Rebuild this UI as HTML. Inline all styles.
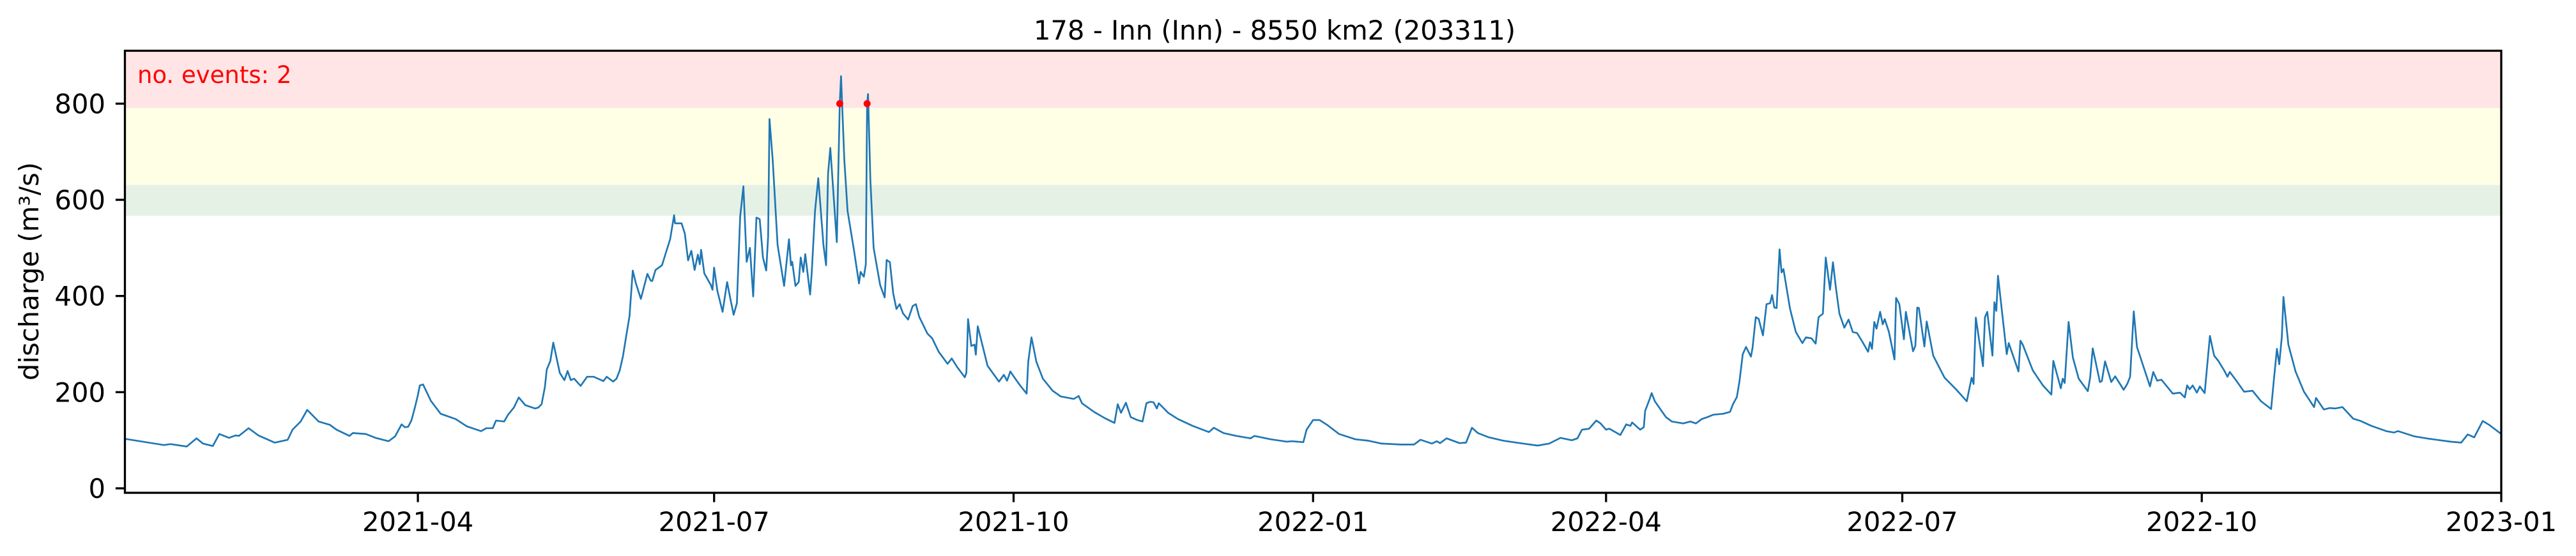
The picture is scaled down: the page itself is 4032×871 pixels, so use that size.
<!DOCTYPE html>
<html><head><meta charset="utf-8"><style>
html,body{margin:0;padding:0;background:#fff;}
svg{display:block;font-family:"DejaVu Sans","Liberation Sans",sans-serif;}
</style></head><body>
<svg id="chart" width="4032" height="871" viewBox="0 0 4032 871" xmlns="http://www.w3.org/2000/svg">
<rect x="0" y="0" width="4032" height="871" fill="#fff"/>
<g id="bands"></g>
<g id="series"></g>
<g id="axes"></g>
</svg>
<script>
// ---- data (day offset since 2021-01-01, discharge m3/s) ----
const days = [0,12,14,19,22,24,27,29,32,34,35,38,41,46,50,51.5,54,56,56.6,59.5,63,65,69,70,74,77,81,83,85,86,87,88,89,90,90.6,91.6,94,97,101.6,105,109.4,111,113,114,116.5,117.7,119.5,121,123,126,127,128,129,129.6,130.7,131.6,133.6,135,136,137,138,140,142,144,147,148,150,151,152,153,154,155,156,157,158.5,160.5,161.5,162,163,165,166,167.5,168.7,169,171,172,173,174,175,176,176.6,177,178,180,180.5,181,182,183.6,185,186,187,188,189,190,191,192,193,194,195,196,197,197.6,198,199,200.5,202.5,204,204.6,205,206,207,207.6,208.4,209,210.5,211,212,213,214.6,215.4,216,216.7,218.7,219.6,220,221,222,224,225.5,226,227,227.6,228,228.3,229,230,232,233.4,234,235,236,237,238,239,240.6,242,243,244,246.5,248,250,252.7,254,255.7,258,258.5,259,260,261,261.4,262,263.6,265,268.5,270,271,272,273,275,277,277.5,278.5,280,282,285,287.5,291.5,293,294,297.7,301,304,305,306,307.5,309,311,312.6,313.8,315,316,317,317.6,320.5,323.5,328,333,334.5,337.5,341.5,345.8,347,352,357,358.5,362,363,365,367,369.5,373,378,382,386,392,396,398,401.5,403,404,406,410,412,413.8,415.6,419,423.5,429.6,434,437.5,441,444.5,446.2,447.6,449.8,452,453.3,455,456,459.4,461.2,462.5,463,465.5,466.6,467,468.3,469,470,473.4,475.2,478.7,480.9,482.6,484.4,486.1,487.9,491,493.1,494,495.2,496,497,498,499.5,500,501,501.9,503.2,504.3,505.4,506,506.7,507.4,508.3,508.9,509.5,511.5,513.3,515.3,516.4,518.1,519.4,520.3,521.6,522.5,523.8,524.7,525.6,526.7,528.2,529.5,530.8,532.1,533.9,535.5,536.1,536.7,537.4,538.1,539.2,540,540.6,541.9,543.6,544.1,545.1,546.5,547.1,549.3,550,550.6,551.1,552.8,553.5,555.5,559,562.5,565.8,567.3,567.9,568.6,570.8,571.4,572.1,573.7,574.3,574.9,575.4,578.1,578.7,581.7,582.3,583,586.1,589.2,591.8,592.4,594.7,595.3,595.9,597.1,598.4,600.2,603,603.7,604.5,606.7,607.3,608.3,610.2,611.4,614,615.1,616,617.1,618.1,622.1,623.1,624.3,625.6,629.1,631.3,632.8,633.5,634.3,635.2,636.5,637.4,638.9,640.5,641.8,643.1,644.9,645.9,646.6,648.4,651,653.6,656.2,659.3,660.2,661.1,661.8,662.6,663.1,664.6,666.8,669.4,672.5,673.1,675.5,677.3,679,681.2,684.5,686.8,690.1,694.7,697,698.3,703.3,707.9,714.4,717.7,719.7,721.7,724.3,726.3,730];
const discharge = [103,90,92,87,104,93,88,113,105,110,109,125,110,95,101,122,139,163,159,139,132,122,109,115,113,105,98,108,133,127,128,141,166,194,214,216,182,155,144,129,119,125,125,141,139,153,168,189,173,166,168,175,210,247,265,303,240,225,244,225,228,213,232,232,223,232,222,228,245,275,317,358,453,426,394,446,432,431,454,464,486,518,568,551,551,530,474,494,454,486,466,496,447,423,413,459,411,367,429,394,361,385,565,628,471,500,399,563,560,480,453,524,768,684,506,421,518,464,471,421,429,480,450,487,403,450,577,645,506,464,654,708,512,800,857,684,577,494,426,450,440,466,800,820,642,500,423,397,475,470,406,373,383,364,351,379,383,357,322,312,284,259,270,252,231,240,352,296,299,278,337,293,255,222,236,224,243,233,214,197,263,314,263,228,203,191,186,192,177,159,146,136,175,157,178,148,142,139,177,180,179,166,177,157,144,130,117,126,115,109,104,109,102,97,98,96,122,142,142,131,113,102,99,93,91,91,101,93,98,94,104,94,95,126,115,106,99,93,89,93,105,100,104,122,124,141,135,122,124,111,133,130,137,122,127,161,184,198,181,148,139,135,139,135,144,148,153,155,159,175,190,223,279,294,274,292,356,352,318,383,385,402,376,375,497,449,456,374,325,302,314,312,301,356,363,480,413,470,418,363,334,351,325,323,303,284,304,290,346,332,367,341,352,325,268,396,383,310,367,285,296,376,375,295,347,276,230,206,181,230,217,355,254,356,367,276,387,369,442,279,302,243,307,299,245,214,195,265,208,228,219,346,272,228,202,230,291,221,223,264,221,233,205,217,232,368,294,212,242,224,226,197,199,189,214,206,214,199,212,198,317,276,265,245,232,242,226,201,203,181,165,230,290,258,316,398,299,243,201,169,188,164,167,166,169,145,140,130,119,116,119,108,103,97,95,112,106,140,132,113];
const eventDays = [219.6, 228];
const eventValues = [800, 800];
const yTicks = [0,200,400,600,800];
const xTickDays = [90,181,273,365,455,546,638,730];
const xTickLabels = ["2021-04","2021-07","2021-10","2022-01","2022-04","2022-07","2022-10","2023-01"];
const bandLows = [791, 631, 567];
const bandHighs = [910, 791, 631];
const bandNames = ["band-red","band-yellow","band-green"];
const bandColors = ["#ffe5e6","#ffffe6","#e6f1e6"];

// ---- layout ----
const L=195.5, R=3915, T=79.5, B=772;
const xMin=0, xMax=730, yMin=-9.3, yMax=910;
const sx = d => L + (d-xMin)/(xMax-xMin)*(R-L);
const sy = v => B - (v-yMin)/(yMax-yMin)*(B-T);
const NS="http://www.w3.org/2000/svg";
function mk(tag, attrs, parent){const e=document.createElementNS(NS,tag);for(const k in attrs)e.setAttribute(k,attrs[k]);parent.appendChild(e);return e;}

const bands=document.getElementById('bands');
for(let i=0;i<bandLows.length;i++){
  const r=mk('rect',{x:L,y:sy(bandHighs[i]),width:R-L,height:sy(bandLows[i])-sy(bandHighs[i]),fill:bandColors[i]},bands);
  
  
}

const series=document.getElementById('series');
let d='';
for(let i=0;i<days.length;i++){d+=(i?'L':'M')+sx(days[i]).toFixed(1)+' '+sy(discharge[i]).toFixed(1);}
const line=mk('path',{d:d,fill:'none',stroke:'#1f77b4','stroke-width':2.7,'stroke-linejoin':'round'},series);


for(let i=0;i<eventDays.length;i++){
  const c=mk('circle',{cx:sx(eventDays[i]),cy:sy(eventValues[i]),r:5.5,fill:'#ff0000'},series);
  
  
}

const axes=document.getElementById('axes');
const frame=mk('rect',{x:L,y:T,width:R-L,height:B-T,fill:'none',stroke:'#000','stroke-width':3.3},axes);


for(let i=0;i<yTicks.length;i++){
  const y=sy(yTicks[i]);
  const t=mk('line',{x1:L-14.6,x2:L,y1:y,y2:y,stroke:'#000','stroke-width':3.3},axes);
  
  
  const tx=mk('text',{x:165,y:y+15,'text-anchor':'end','font-size':41.7,fill:'#000'},axes);
  tx.textContent=yTicks[i];
  
  
}
for(let i=0;i<xTickDays.length;i++){
  const x=sx(xTickDays[i]);
  const t=mk('line',{x1:x,x2:x,y1:B,y2:B+14.6,stroke:'#000','stroke-width':3.3},axes);
  
  
  const tx=mk('text',{x:x,y:832,'text-anchor':'middle','font-size':41.7,fill:'#000'},axes);
  tx.textContent=xTickLabels[i];
  
  
}
</script>
<script>
(function(){
  const NS="http://www.w3.org/2000/svg";
  const svg=document.getElementById('chart');
  const title=document.createElementNS(NS,'text');
  title.setAttribute('x',1995);title.setAttribute('y',62);title.setAttribute('text-anchor','middle');title.setAttribute('font-size',41.7);
  title.textContent='178 - Inn (Inn) - 8550 km2 (203311)';
  
  
  svg.appendChild(title);
  const ev=document.createElementNS(NS,'text');
  ev.setAttribute('x',215);ev.setAttribute('y',130);ev.setAttribute('font-size',37);ev.setAttribute('fill','#ff0000');
  ev.textContent='no. events: 2';
  
  
  svg.appendChild(ev);
  const yl=document.createElementNS(NS,'text');
  yl.setAttribute('transform','translate(60,425) rotate(-90)');yl.setAttribute('text-anchor','middle');yl.setAttribute('font-size',41.7);
  yl.textContent='discharge (m³/s)';
  
  
  svg.appendChild(yl);
})();
</script>
</body></html>
